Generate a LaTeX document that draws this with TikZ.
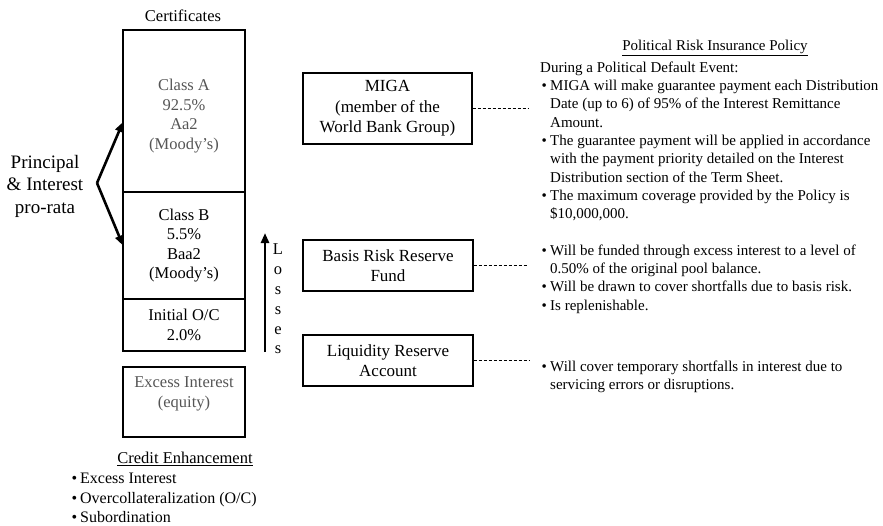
\documentclass[tikz,border=0pt]{standalone}
\usepackage{fontspec}
\setmainfont{Liberation Serif}
\usetikzlibrary{arrows.meta,positioning}
\definecolor{txtgray}{RGB}{85,85,85}

\newcommand{\bitem}{\makebox[10pt][l]{\hspace{1.5pt}\textbullet}}
\newcommand{\bcont}{\hspace*{10pt}}

\tikzset{
  stackbox/.style={draw, line width=1.3pt, inner sep=0pt, outer sep=0pt, minimum width=122pt, align=center, font=\fontsize{16.5}{19.6}\selectfont},
  stacktxt/.style={inner sep=0pt, align=center, font=\fontsize{16.5}{19.6}\selectfont},
  sidebox/.style={draw, line width=1.3pt, inner sep=0pt, minimum width=170pt, align=center, font=\fontsize{17}{20.5}\selectfont},
  notes/.style={inner sep=0pt, anchor=north west, align=left, font=\fontsize{15}{18.3}\selectfont},
  dashlink/.style={line width=1.8pt, dash pattern=on 3pt off 2pt},
  bigarrow/.style={line width=2.6pt, -{Triangle[length=10pt,width=8pt]}},
}

\begin{document}
\begin{tikzpicture}[x=1pt,y=-1pt]
\useasboundingbox (0,0) rectangle (883,525);

% certificates stack
\node[stacktxt] (certs) at (183,16) {Certificates};
\node[stackbox, minimum height=162pt] (classA) at (184,111) {};
\node[stacktxt, text=txtgray] (classAtxt) at (184,116) {Class A\\92.5\%\\Aa2\\(Moody’s)};
\node[stackbox, minimum height=107pt, below=0pt of classA] (classB) {Class B\\5.5\%\\Baa2\\(Moody’s)};
\node[stackbox, minimum height=52pt, below=0pt of classB] (initOC) {Initial O/C\\2.0\%};
\node[stackbox, minimum height=70pt, text=txtgray, below=16pt of initOC] (excess) {Excess Interest\\(equity)\\\mbox{}};

% principal & interest
\node[align=center, font=\fontsize{19}{22.5}\selectfont] (prorata) at (45,186) {Principal\\\& Interest\\pro-rata};
\coordinate (pivot) at (97,183);
\draw[bigarrow] (pivot) -- ([yshift=-11pt]classA.west);
\draw[bigarrow] (pivot) -- (classB.west);

% losses
\coordinate (lossbot) at (265,352);
\coordinate (losstop) at (265,233);
\draw[bigarrow] (lossbot) -- (losstop);
\node[align=center, inner sep=0pt, font=\fontsize{16.5}{19.8}\selectfont] (losses) at (278,299) {L\\o\\s\\s\\e\\s};

% credit enhancement
\node[stacktxt] (credit) at (185,459) {\underline{Credit Enhancement}};
\node[notes, font=\fontsize{16}{19.5}\selectfont] (creditlist) at (70,473) {\bitem Excess Interest\\\bitem Overcollateralization (O/C)\\\bitem Subordination};

% reserve boxes
\node[sidebox, minimum width=169pt, minimum height=71pt] (miga) at (387.5,108.5) {MIGA\\(member of the\\World Bank Group)};
\node[sidebox, minimum height=51pt] (basis) at (388,265.5) {Basis Risk Reserve\\Fund};
\node[sidebox, minimum height=51pt] (liquid) at (388,360.5) {Liquidity Reserve\\Account};

% notes
\node[font=\fontsize{15}{18.3}\selectfont] (policytitle) at (715,48) {\underline{Political Risk Insurance Policy}};
\node[notes] (policy) at (540,61.5) {During a Political Default Event:\\
\bitem MIGA will make guarantee payment each Distribution\\
\bcont Date (up to 6) of 95\% of the Interest Remittance\\
\bcont Amount.\\
\bitem The guarantee payment will be applied in accordance\\
\bcont with the payment priority detailed on the Interest\\
\bcont Distribution section of the Term Sheet.\\
\bitem The maximum coverage provided by the Policy is\\
\bcont \$10,000,000.};
\node[notes] (basisnotes) at (540,244.5) {\bitem Will be funded through excess interest to a level of\\
\bcont 0.50\% of the original pool balance.\\
\bitem Will be drawn to cover shortfalls due to basis risk.\\
\bitem Is replenishable.};
\node[notes] (liquidnotes) at (540,360.5) {\bitem Will cover temporary shortfalls in interest due to\\
\bcont servicing errors or disruptions.};

\draw[dashlink] (miga.east) -- ([xshift=-12pt]miga.east -| policy.west);
\draw[dashlink] (basis.east) -- ([xshift=-13pt]basis.east -| basisnotes.west);
\draw[dashlink] (liquid.east) -- ([xshift=-11pt]liquid.east -| liquidnotes.west);

\end{tikzpicture}
\end{document}
